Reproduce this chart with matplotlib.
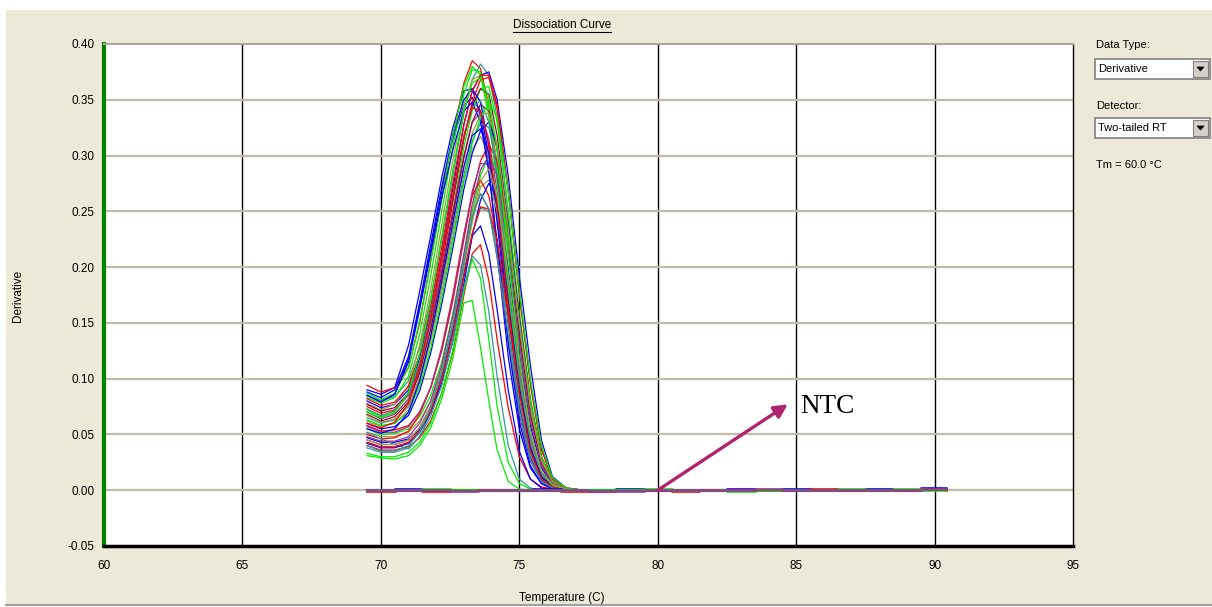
import numpy as np
import matplotlib
matplotlib.use('Agg')
import matplotlib.pyplot as plt
from matplotlib.patches import Rectangle, Polygon
from matplotlib.lines import Line2D

W, H = 1212, 607

# ---- data ----
TEMPS = [69.5, 70.0, 70.5, 71.0, 71.4, 71.8, 72.2, 72.6, 73.0, 73.3,
         73.6, 73.9, 74.2, 74.6, 75.0, 75.4, 75.8, 76.2, 76.7, 77.3]
TAIL_TEMP = 90.4

CURVES = [
    [.090, .086, .092, .130, .178, .228, .280, .325, .358, .360, .335, .290, .215, .120, .055, .020, .006, .002, .000, .000],
    [.085, .080, .086, .118, .165, .215, .268, .315, .345, .352, .340, .300, .240, .150, .075, .028, .008, .002, .000, .000],
    [.094, .088, .092, .110, .150, .205, .262, .318, .365, .385, .378, .345, .290, .195, .108, .045, .014, .004, .001, .000],
    [.085, .080, .084, .098, .128, .172, .225, .282, .338, .368, .382, .372, .335, .250, .150, .068, .022, .006, .001, .000],
    [.080, .074, .077, .090, .118, .160, .212, .270, .328, .358, .372, .375, .350, .282, .192, .112, .045, .012, .002, .000],
    [.083, .078, .083, .102, .140, .192, .250, .308, .355, .377, .375, .340, .280, .185, .098, .040, .012, .003, .001, .000],
    [.078, .072, .077, .094, .130, .180, .238, .296, .345, .368, .372, .345, .290, .198, .108, .045, .014, .003, .001, .000],
    [.075, .069, .072, .085, .112, .152, .202, .258, .315, .348, .368, .370, .342, .268, .175, .095, .036, .010, .002, .000],
    [.072, .066, .069, .081, .106, .145, .195, .250, .308, .340, .360, .362, .330, .250, .160, .083, .030, .008, .001, .000],
    [.077, .071, .074, .087, .115, .157, .208, .262, .316, .345, .360, .355, .318, .238, .150, .075, .027, .007, .001, .000],
    [.088, .083, .090, .120, .168, .220, .272, .318, .350, .360, .348, .308, .248, .158, .080, .030, .009, .002, .000, .000],
    [.070, .064, .068, .082, .110, .150, .198, .250, .300, .330, .338, .315, .268, .180, .098, .040, .012, .003, .001, .000],
    [.065, .060, .063, .075, .100, .137, .183, .233, .283, .313, .329, .325, .292, .215, .132, .062, .021, .006, .001, .000],
    [.068, .062, .066, .079, .105, .144, .193, .246, .298, .330, .346, .340, .305, .225, .140, .068, .024, .007, .001, .000],
    [.062, .057, .060, .072, .097, .133, .178, .227, .278, .306, .317, .302, .262, .182, .105, .045, .014, .004, .001, .000],
    [.060, .055, .057, .067, .089, .123, .167, .217, .270, .302, .322, .330, .308, .238, .155, .080, .030, .008, .001, .000],
    [.058, .053, .054, .058, .070, .092, .125, .170, .225, .265, .295, .310, .295, .230, .150, .078, .029, .008, .001, .000],
    [.055, .050, .051, .055, .066, .085, .115, .158, .210, .250, .282, .300, .288, .226, .150, .080, .030, .008, .001, .000],
    [.052, .048, .048, .052, .062, .080, .108, .148, .200, .240, .272, .278, .250, .180, .105, .047, .015, .004, .001, .000],
    [.050, .046, .047, .053, .068, .092, .128, .175, .230, .264, .278, .264, .224, .150, .080, .032, .010, .003, .000, .000],
    [.045, .041, .041, .045, .056, .075, .105, .148, .205, .245, .266, .252, .208, .134, .068, .026, .008, .002, .000, .000],
    [.047, .043, .043, .046, .054, .070, .096, .134, .185, .228, .260, .275, .262, .198, .122, .058, .020, .005, .001, .000],
    [.052, .046, .041, .037, .048, .070, .103, .145, .196, .230, .253, .250, .220, .150, .080, .032, .010, .003, .000, .000],
    [.040, .036, .036, .039, .047, .062, .087, .124, .175, .212, .220, .188, .135, .074, .030, .010, .003, .001, .000, .000],
    [.033, .030, .030, .034, .043, .060, .087, .126, .178, .207, .190, .135, .075, .025, .006, .001, .000, .000, .000, .000],
    [.031, .029, .028, .031, .040, .056, .082, .118, .168, .170, .128, .080, .036, .008, .001, .000, .000, .000, .000, .000],
    [.038, .034, .034, .038, .048, .066, .094, .134, .182, .210, .202, .160, .102, .040, .010, .002, .000, .000, .000, .000],
    [.042, .038, .038, .042, .052, .070, .100, .142, .192, .228, .237, .212, .162, .090, .035, .010, .002, .000, .000, .000],
    [.057, .052, .052, .057, .070, .092, .126, .172, .228, .268, .293, .292, .260, .186, .110, .050, .016, .004, .001, .000],
    [.087, .081, .087, .110, .152, .205, .262, .318, .362, .380, .372, .335, .275, .180, .095, .038, .011, .003, .000, .000],
    [.082, .076, .079, .093, .122, .165, .218, .275, .328, .358, .372, .372, .345, .270, .178, .098, .038, .010, .002, .000],
    [.085, .079, .086, .115, .162, .212, .262, .305, .340, .348, .330, .285, .222, .132, .062, .022, .006, .001, .000, .000],
    [.073, .067, .071, .086, .115, .158, .210, .265, .318, .343, .349, .330, .282, .190, .105, .045, .014, .004, .001, .000],
    [.067, .061, .064, .076, .101, .138, .185, .237, .290, .320, .337, .338, .310, .235, .150, .075, .027, .007, .001, .000],
    [.063, .058, .060, .070, .093, .127, .172, .223, .277, .311, .334, .348, .334, .268, .180, .100, .040, .011, .002, .000],
    [.043, .039, .039, .043, .053, .071, .100, .140, .192, .230, .254, .252, .224, .158, .090, .038, .012, .003, .000, .000],
    [.048, .044, .044, .048, .060, .080, .112, .156, .212, .256, .287, .300, .282, .214, .132, .062, .022, .006, .001, .000],
    [.055, .051, .055, .070, .098, .138, .188, .240, .290, .318, .324, .302, .255, .170, .092, .038, .012, .003, .000, .000],
    [.070, .065, .070, .088, .122, .170, .228, .287, .340, .365, .370, .352, .305, .210, .120, .052, .017, .004, .001, .000],
    [.060, .056, .061, .078, .110, .155, .210, .265, .318, .343, .340, .310, .255, .165, .088, .035, .010, .003, .000, .000],
    [.045, .041, .041, .045, .056, .076, .106, .150, .205, .245, .277, .288, .264, .194, .115, .052, .017, .005, .001, .000],
    [.040, .035, .035, .040, .052, .074, .106, .150, .205, .245, .266, .252, .210, .140, .072, .028, .008, .002, .000, .000],
]
CURVE_COLORS = ['blue', 'blue', 'red', 'teal', 'blue', 'green', 'olive', 'red',
                'green', 'maroon', 'blue', 'purple', 'teal', 'maroon', 'olive', 'blue',
                'red', 'green', 'olive', 'red', 'purple', 'blue', 'teal', 'red',
                'green', 'green', 'teal', 'blue', 'purple', 'green', 'red', 'blue',
                'teal', 'olive', 'green', 'red', 'purple', 'blue', 'green', 'red',
                'olive', 'teal']

# NTC wells: flat traces on the baseline
NTC_TEMPS = [69.5, 70.5, 71.5, 72.5, 73.5, 74.5, 75.5, 76.5, 77.5, 78.5, 79.5,
             80.5, 81.5, 82.5, 83.5, 84.5, 85.5, 86.5, 87.5, 88.5, 89.5, 90.4]
NTC_1 = [0.000, 0.001, 0.000, 0.000, 0.000, 0.000, 0.001, 0.000, 0.000, 0.001, 0.000,
         0.000, 0.000, 0.001, 0.000, 0.001, 0.000, 0.000, 0.001, 0.000, 0.002, 0.001]
NTC_2 = [-0.001, 0.000, -0.001, 0.000, 0.000, 0.000, 0.000, -0.001, -0.001, 0.000, 0.000,
         -0.001, 0.000, 0.000, 0.000, 0.000, 0.001, 0.000, 0.000, 0.000, 0.001, 0.000]
NTC_3 = [0.000, 0.000, 0.001, 0.000, 0.000, 0.000, 0.000, 0.000, 0.000, 0.000, 0.001,
         0.000, 0.000, -0.001, 0.000, 0.000, 0.000, 0.001, 0.000, 0.001, 0.000, 0.000]
NTC_4 = [0.000, 0.000, 0.000, -0.001, 0.000, 0.000, 0.000, 0.000, -0.001, -0.001, 0.000,
         0.000, 0.000, 0.000, 0.001, 0.000, 0.000, 0.000, 0.000, 0.000, 0.001, 0.001]
NTC_COLORS = ['blue', 'red', 'green', 'purple']

X_TICKS = [60, 65, 70, 75, 80, 85, 90, 95]
Y_TICKS = [-0.05, 0.00, 0.05, 0.10, 0.15, 0.20, 0.25, 0.30, 0.35, 0.40]
Y_LABELS = ['-0.05', '0.00', '0.05', '0.10', '0.15', '0.20', '0.25', '0.30', '0.35', '0.40']

PALETTE = {'red': '#FF0000', 'green': '#00EE00', 'blue': '#0000FF', 'olive': '#A0A040',
           'purple': '#993399', 'teal': '#339999', 'maroon': '#990033'}

BG = '#ECE9D8'
UI_FONT = 'Liberation Sans'


def fx(x):
    return x / W


def fy(y):
    return 1 - y / H


fig = plt.figure(figsize=(W / 100, H / 100), dpi=100, facecolor='white')
fig.patches.append(Rectangle((fx(6), fy(604)), fx(W - 6), (604 - 10) / H,
                             transform=fig.transFigure, facecolor=BG, edgecolor='none', zorder=-10))
fig.add_artist(Line2D([fx(6), 1], [fy(605), fy(605)], color='#A0A0A0', lw=1.5))

ax = fig.add_axes([fx(104), fy(546), (1073 - 104) / W, (546 - 44) / H])
ax.set_facecolor('white')
ax.set_xlim(60, 95)
ax.set_ylim(-0.05, 0.40)

for xv in X_TICKS[1:-1]:
    ax.axvline(xv, color='black', lw=1, zorder=1)
for yv in Y_TICKS[1:-1]:
    ax.axhline(yv, color='#C0BCAA', lw=1.6, zorder=1)

for vals, cname in zip(CURVES, CURVE_COLORS):
    ax.plot(TEMPS + [TAIL_TEMP], vals + [0.0], color=PALETTE[cname], lw=0.9, zorder=2)

for vals, cname in zip([NTC_1, NTC_2, NTC_3, NTC_4], NTC_COLORS):
    ax.plot(NTC_TEMPS, vals, color=PALETTE[cname], lw=2.2, drawstyle='steps-post',
            alpha=0.8, zorder=3)

# NTC arrow + label
ax.annotate('', xy=(84.7, 0.077), xytext=(80.0, 0.0),
            arrowprops=dict(arrowstyle='-|>', color='#B0236E', lw=2.4, mutation_scale=20,
                            shrinkA=0, shrinkB=0), zorder=5)
ax.text(85.15, 0.075, 'NTC', fontsize=19.5, family='Liberation Serif', va='center', ha='left',
        color='black', zorder=5)

ax.set_xticks(X_TICKS)
ax.set_xticklabels([str(v) for v in X_TICKS], fontsize=8.5, family=UI_FONT)
ax.set_yticks(Y_TICKS)
ax.set_yticklabels(Y_LABELS, fontsize=8.5, family=UI_FONT)
ax.tick_params(axis='both', length=0, colors='black')
ax.tick_params(axis='x', pad=10)
ax.tick_params(axis='y', pad=7)

ax.spines['left'].set_color('#008000')
ax.spines['left'].set_linewidth(3)
ax.spines['bottom'].set_color('black')
ax.spines['bottom'].set_linewidth(2.5)
ax.spines['right'].set_color('black')
ax.spines['right'].set_linewidth(1)
ax.spines['top'].set_color('#ACA899')
ax.spines['top'].set_linewidth(1.5)

# titles / axis labels
title = fig.text(fx(562), fy(25.5), 'Dissociation Curve', fontsize=8.5, family=UI_FONT,
                 ha='center', va='center')
fig.text(fx(562), fy(598), 'Temperature (C)', fontsize=8.5, family=UI_FONT,
         ha='center', va='center')
fig.text(fx(18), fy(296), 'Derivative', fontsize=8.5, family=UI_FONT, rotation=90,
         ha='center', va='center')

# right-hand control panel
fig.text(fx(1096), fy(45), 'Data Type:', fontsize=8, family=UI_FONT, va='center')
fig.text(fx(1096), fy(106), 'Detector:', fontsize=8, family=UI_FONT, va='center')
fig.text(fx(1096), fy(165), 'Tm = 60.0 \u00b0C', fontsize=8, family=UI_FONT, va='center')


def combo(y0, y1, label):
    fig.patches.append(Rectangle((fx(1095), fy(y1)), fx(1210 - 1095), (y1 - y0) / H,
                                 transform=fig.transFigure, facecolor='white',
                                 edgecolor='#808080', lw=1.2))
    fig.patches.append(Rectangle((fx(1193), fy(y1 - 2)), fx(1208 - 1193), (y1 - y0 - 4) / H,
                                 transform=fig.transFigure, facecolor='#D4D0C8',
                                 edgecolor='#808080', lw=0.8))
    yc = (y0 + y1) / 2
    fig.patches.append(Polygon([(fx(1197), fy(yc - 2)), (fx(1204), fy(yc - 2)), (fx(1200.5), fy(yc + 2))],
                               closed=True, transform=fig.transFigure, facecolor='black',
                               edgecolor='black', lw=0.5))
    fig.text(fx(1098), fy(yc), label, fontsize=8, family=UI_FONT, va='center')


combo(59, 79, 'Derivative')
combo(118, 138, 'Two-tailed RT')

# underline the chart title
fig.canvas.draw()
bb = title.get_window_extent()
inv = fig.transFigure.inverted()
(x0, yb), (x1, _) = inv.transform([(bb.x0, bb.y0), (bb.x1, bb.y0)])
fig.add_artist(Line2D([x0, x1], [yb, yb], color='black', lw=0.8))

fig.savefig('out.png', dpi=100, facecolor=fig.get_facecolor())
